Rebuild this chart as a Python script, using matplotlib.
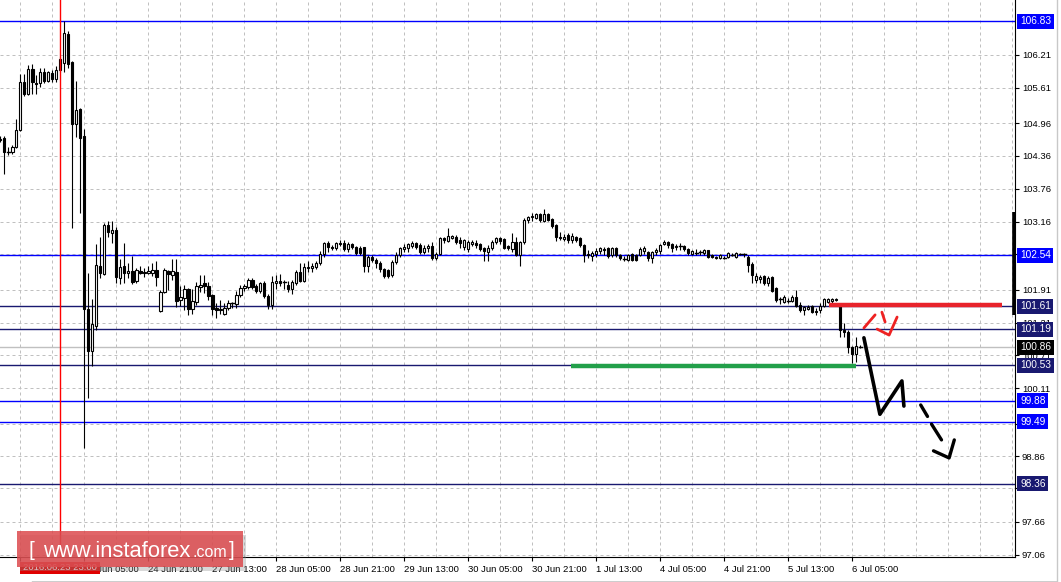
import matplotlib
matplotlib.use("Agg")
import matplotlib.pyplot as plt
import matplotlib.transforms as mtransforms
from matplotlib.patches import Rectangle

### hourly candles, bar 0 .. bar 215
opens = [104.68, 104.69, 104.43, 104.43, 104.52, 104.84, 105.72, 105.49, 105.95, 105.70,
         105.70, 105.90, 105.73, 105.88, 105.77, 105.93, 106.06, 106.59, 106.08, 104.95,
         105.22, 104.72, 101.56, 100.79, 101.25, 102.35, 102.20, 103.10, 102.95, 103.00,
         102.13, 102.35, 102.22, 102.26, 102.07, 102.26, 102.24, 102.22, 102.22, 102.27,
         101.52, 101.87, 102.25, 102.18, 102.24, 101.72, 101.76, 101.93, 101.56, 101.69,
         101.96, 102.03, 101.98, 101.81, 101.57, 101.54, 101.47, 101.58, 101.66, 101.65,
         101.81, 101.94, 101.96, 102.09, 101.98, 101.89, 102.03, 101.80, 101.63, 102.03,
         102.07, 102.05, 102.00, 101.93, 102.03, 102.23, 102.07, 102.33, 102.31, 102.33,
         102.40, 102.57, 102.77, 102.70, 102.68, 102.77, 102.77, 102.66, 102.75, 102.70,
         102.68, 102.69, 102.35, 102.51, 102.46, 102.40, 102.29, 102.27, 102.18, 102.42,
         102.55, 102.66, 102.68, 102.72, 102.77, 102.73, 102.60, 102.68, 102.72, 102.49,
         102.57, 102.86, 102.80, 102.86, 102.88, 102.82, 102.70, 102.66, 102.75, 102.77,
         102.74, 102.67, 102.60, 102.68, 102.79, 102.86, 102.84, 102.72, 102.66, 102.79,
         102.55, 102.79, 103.19, 103.24, 103.22, 103.29, 103.17, 103.29, 103.20, 103.09,
         102.88, 102.84, 102.91, 102.82, 102.88, 102.86, 102.73, 102.57, 102.53, 102.57,
         102.62, 102.66, 102.68, 102.55, 102.68, 102.55, 102.49, 102.46, 102.57, 102.55,
         102.55, 102.62, 102.60, 102.49, 102.60, 102.62, 102.75, 102.79, 102.75, 102.70,
         102.70, 102.71, 102.66, 102.57, 102.60, 102.59, 102.58, 102.63, 102.55, 102.51,
         102.50, 102.51, 102.51, 102.56, 102.51, 102.57, 102.57, 102.51, 102.38, 102.09,
         102.10, 102.16, 102.03, 102.14, 101.94, 101.73, 101.69, 101.72, 101.70, 101.78,
         101.63, 101.54, 101.56, 101.61, 101.52, 101.54, 101.61, 101.69, 101.70, 101.72,
         101.65, 101.17, 101.13, 100.86, 100.73, 100.86]
highs = [104.72, 104.73, 104.52, 104.56, 105.04, 105.86, 105.86, 106.03, 106.05, 105.84,
         105.97, 105.97, 105.92, 105.94, 106.01, 106.17, 106.83, 106.65, 106.10, 105.73,
         105.24, 104.85, 102.22, 101.74, 102.75, 102.88, 103.13, 103.17, 103.17, 103.06,
         102.48, 102.77, 102.40, 102.53, 102.31, 102.35, 102.31, 102.35, 102.40, 102.44,
         101.90, 102.31, 102.27, 102.47, 102.47, 101.98, 102.00, 101.95, 101.92, 102.06,
         102.18, 102.18, 102.05, 101.83, 101.67, 101.72, 101.66, 101.72, 101.69, 101.89,
         101.99, 102.01, 102.12, 102.12, 102.01, 102.05, 102.07, 101.83, 102.16, 102.18,
         102.20, 102.09, 102.07, 102.09, 102.27, 102.40, 102.40, 102.44, 102.40, 102.44,
         102.62, 102.79, 102.80, 102.73, 102.79, 102.82, 102.82, 102.79, 102.77, 102.71,
         102.71, 102.70, 102.55, 102.55, 102.49, 102.44, 102.31, 102.29, 102.46, 102.60,
         102.70, 102.75, 102.77, 102.80, 102.79, 102.77, 102.73, 102.75, 102.79, 102.60,
         102.88, 102.88, 103.04, 102.92, 102.91, 102.88, 102.84, 102.82, 102.82, 102.82,
         102.77, 102.70, 102.73, 102.82, 102.88, 102.88, 102.86, 102.73, 102.95, 102.88,
         102.80, 103.22, 103.26, 103.31, 103.31, 103.31, 103.39, 103.31, 103.22, 103.11,
         102.97, 102.93, 102.95, 102.95, 102.89, 102.88, 102.75, 102.64, 102.62, 102.68,
         102.70, 102.70, 102.70, 102.70, 102.70, 102.57, 102.53, 102.57, 102.59, 102.57,
         102.70, 102.71, 102.62, 102.62, 102.68, 102.75, 102.82, 102.80, 102.77, 102.75,
         102.77, 102.73, 102.68, 102.64, 102.66, 102.64, 102.66, 102.64, 102.57, 102.53,
         102.57, 102.53, 102.60, 102.59, 102.60, 102.59, 102.59, 102.55, 102.42, 102.22,
         102.18, 102.18, 102.16, 102.16, 101.96, 101.78, 101.81, 101.76, 101.81, 101.91,
         101.69, 101.61, 101.63, 101.63, 101.58, 101.67, 101.76, 101.76, 101.76, 101.76,
         101.67, 101.31, 101.17, 100.88, 101.04, 100.90]
lows = [104.62, 104.03, 104.38, 104.40, 104.50, 104.82, 105.46, 105.48, 105.49, 105.49,
        105.63, 105.70, 105.72, 105.71, 105.71, 105.90, 105.90, 105.97, 103.04, 104.71,
        103.32, 99.01, 99.93, 100.51, 101.17, 102.13, 102.18, 102.88, 102.77, 102.03,
        102.02, 102.03, 102.13, 102.02, 102.04, 102.19, 102.15, 102.19, 102.17, 101.98,
        101.50, 101.85, 101.91, 102.09, 101.59, 101.61, 101.54, 101.45, 101.47, 101.63,
        101.87, 101.85, 101.72, 101.45, 101.39, 101.47, 101.45, 101.54, 101.58, 101.58,
        101.78, 101.89, 101.92, 101.92, 101.85, 101.85, 101.76, 101.56, 101.56, 101.92,
        101.98, 101.92, 101.87, 101.83, 102.00, 102.05, 102.05, 102.24, 102.24, 102.29,
        102.37, 102.51, 102.60, 102.64, 102.64, 102.71, 102.62, 102.60, 102.66, 102.55,
        102.55, 102.24, 102.24, 102.42, 102.31, 102.24, 102.13, 102.13, 102.15, 102.38,
        102.51, 102.60, 102.60, 102.68, 102.66, 102.57, 102.57, 102.60, 102.46, 102.46,
        102.55, 102.77, 102.78, 102.84, 102.75, 102.68, 102.64, 102.60, 102.71, 102.68,
        102.62, 102.44, 102.44, 102.64, 102.75, 102.75, 102.66, 102.64, 102.60, 102.53,
        102.35, 102.75, 103.13, 103.17, 103.20, 103.15, 103.15, 103.17, 103.04, 102.80,
        102.82, 102.80, 102.77, 102.77, 102.79, 102.70, 102.42, 102.49, 102.44, 102.51,
        102.57, 102.55, 102.49, 102.51, 102.51, 102.46, 102.44, 102.44, 102.44, 102.44,
        102.53, 102.57, 102.44, 102.40, 102.55, 102.57, 102.73, 102.68, 102.60, 102.64,
        102.64, 102.62, 102.55, 102.55, 102.55, 102.55, 102.55, 102.49, 102.49, 102.47,
        102.48, 102.48, 102.49, 102.53, 102.49, 102.55, 102.51, 102.24, 102.03, 102.03,
        102.04, 102.00, 101.98, 101.87, 101.69, 101.65, 101.67, 101.67, 101.69, 101.59,
        101.50, 101.45, 101.54, 101.48, 101.45, 101.48, 101.59, 101.67, 101.67, 101.70,
        101.04, 101.04, 100.75, 100.57, 100.59, 100.84]
closes = [104.66, 104.43, 104.44, 104.52, 104.84, 105.72, 105.49, 105.95, 105.72, 105.68,
          105.90, 105.73, 105.90, 105.77, 105.93, 106.14, 106.61, 106.04, 104.95, 105.20,
          104.69, 101.56, 100.79, 101.28, 102.37, 102.22, 103.09, 102.97, 103.00, 102.14,
          102.33, 102.22, 102.26, 102.06, 102.27, 102.22, 102.22, 102.26, 102.27, 102.14,
          101.87, 102.27, 102.20, 102.25, 101.70, 101.78, 101.93, 101.56, 101.70, 101.98,
          101.99, 101.98, 101.80, 101.56, 101.54, 101.56, 101.58, 101.66, 101.67, 101.81,
          101.94, 101.98, 102.09, 101.96, 101.89, 102.03, 101.80, 101.63, 102.05, 102.07,
          102.03, 102.06, 101.93, 102.05, 102.23, 102.07, 102.33, 102.31, 102.35, 102.40,
          102.57, 102.77, 102.70, 102.68, 102.77, 102.75, 102.66, 102.75, 102.70, 102.59,
          102.59, 102.35, 102.51, 102.46, 102.40, 102.29, 102.16, 102.16, 102.42, 102.55,
          102.67, 102.70, 102.74, 102.77, 102.70, 102.60, 102.68, 102.72, 102.49, 102.57,
          102.86, 102.82, 102.89, 102.89, 102.79, 102.77, 102.82, 102.78, 102.79, 102.73,
          102.66, 102.62, 102.68, 102.79, 102.85, 102.80, 102.68, 102.68, 102.79, 102.55,
          102.79, 103.19, 103.24, 103.26, 103.29, 103.19, 103.29, 103.19, 103.07, 102.88,
          102.86, 102.88, 102.82, 102.89, 102.82, 102.73, 102.55, 102.55, 102.59, 102.62,
          102.68, 102.64, 102.53, 102.68, 102.55, 102.49, 102.48, 102.55, 102.46, 102.46,
          102.66, 102.68, 102.49, 102.60, 102.64, 102.73, 102.79, 102.73, 102.68, 102.72,
          102.71, 102.66, 102.58, 102.62, 102.59, 102.60, 102.64, 102.51, 102.51, 102.49,
          102.54, 102.50, 102.58, 102.55, 102.58, 102.57, 102.56, 102.36, 102.18, 102.16,
          102.14, 102.03, 102.13, 101.89, 101.72, 101.74, 101.78, 101.71, 101.78, 101.61,
          101.54, 101.59, 101.59, 101.50, 101.50, 101.61, 101.74, 101.74, 101.74, 101.74,
          101.17, 101.13, 100.86, 100.73, 100.88, 100.87]

### price axis labels on the right (two are hidden behind level boxes)
y_ticks = [106.21, 105.61, 104.96, 104.36, 103.76, 103.16, 102.56, 101.91, 101.31,
           100.71, 100.11, 99.46, 98.86, 98.28, 97.66, 97.06]
y_tick_labels = ["106.21", "105.61", "104.96", "104.36", "103.76", "103.16", "",
                 "101.91", "101.21", "100.71", "100.11", "", "98.86", "98.28",
                 "97.66", "97.06"]

### time axis labels (bar index -> text)
x_label_bars = [-11, 5, 21, 37, 53, 69, 85, 101, 117, 133, 149, 165, 181, 197, 213]
x_labels = ["22 Jun 21:00", "23 Jun 13:00", "24 Jun 05:00", "24 Jun 21:00", "27 Jun 13:00",
            "28 Jun 05:00", "28 Jun 21:00", "29 Jun 13:00", "30 Jun 05:00", "30 Jun 21:00",
            "1 Jul 13:00", "4 Jul 05:00", "4 Jul 21:00", "5 Jul 13:00", "6 Jul 05:00"]

### horizontal levels
levels = [106.83, 102.54, 101.61, 101.19, 100.53, 99.88, 99.49, 98.36]
level_colors = ["#0000ff", "#0000ff", "#191970", "#191970", "#191970", "#0000ff", "#0000ff", "#191970"]
bid_price = 100.86
marker_bar = 15

### hand drawn marks (bar index, price)
red_level = (207.2, 250.4, 101.63)
green_level = (142.7, 213.9, 100.51)
red_strokes = [([215.9, 218.7], [101.21, 101.45]),
               ([220.4, 221.2], [101.50, 101.32]),
               ([219.2, 222.2, 224.2], [101.19, 101.08, 101.41])]
black_path_x = [215.9, 219.9, 225.4, 225.9]
black_path_y = [101.03, 99.63, 100.24, 99.78]
black_dashes = [([230.1, 231.8], [99.80, 99.59]),
                ([232.8, 235.3], [99.45, 99.16]),
                ([233.3, 237.2, 238.5], [98.96, 98.83, 99.16])]

W, H = 1061, 582
fig = plt.figure(figsize=(W / 100, H / 100), dpi=100)
fig.patch.set_facecolor("white")
ax = fig.add_axes([0, 25 / H, 1015 / W, 557 / H])
ax.set_xlim(-0.075, -0.075 + 1015 / 4)
ax.set_ylim(107.217 - 557 * 0.018315, 107.217)

font = "Liberation Sans"

# grid
for b in range(5, 254, 8):
    ax.axvline(b, color="#c0c0c0", lw=0.72, dashes=(3, 3), zorder=0)
for v in y_ticks:
    ax.axhline(v, color="#c0c0c0", lw=0.72, dashes=(3, 3), zorder=0)

# levels
ax.axhline(bid_price, color="#c0c0c0", lw=1.0, zorder=1)
for v, c in zip(levels, level_colors):
    ax.axhline(v, color=c, lw=1.0, zorder=1)

# candles
for i in range(len(opens)):
    o, h, l, c = opens[i], highs[i], lows[i], closes[i]
    ax.plot([i, i], [l, h], color="black", lw=0.8, zorder=3, solid_capstyle="butt")
    if abs(c - o) < 0.015:
        ax.plot([i - 0.4, i + 0.4], [c, c], color="black", lw=1.0, zorder=4)
    else:
        fc = "white" if c > o else "black"
        ax.add_patch(Rectangle((i - 0.3, min(o, c)), 0.6, abs(c - o),
                               facecolor=fc, edgecolor="black", lw=0.8, zorder=4))

ax.axvline(marker_bar, color="red", lw=1.0, zorder=5)

# drawings
ax.plot(red_level[:2], [red_level[2]] * 2, color="#e8232b", lw=3.2, zorder=6, solid_capstyle="butt")
ax.plot(green_level[:2], [green_level[2]] * 2, color="#22a04a", lw=3.2, zorder=6, solid_capstyle="butt")
for xs, ys in red_strokes:
    ax.plot(xs, ys, color="#ee2222", lw=2.0, zorder=7, solid_capstyle="round")
ax.plot(black_path_x, black_path_y, color="black", lw=2.6, zorder=7, solid_capstyle="round")
for xs, ys in black_dashes:
    ax.plot(xs, ys, color="black", lw=2.4, zorder=7, solid_capstyle="round")

# spines / ticks
for s in ["left", "top"]:
    ax.spines[s].set_visible(False)
ax.spines["right"].set_color("black")
ax.spines["bottom"].set_color("black")
ax.yaxis.tick_right()
ax.set_yticks(y_ticks)
ax.set_yticklabels(y_tick_labels, fontsize=6.8, family=font)
ax.tick_params(axis="y", length=3, width=0.8, pad=2, colors="black")
ax.set_xticks(x_label_bars)
ax.set_xticklabels(x_labels, fontsize=6.8, family=font, ha="left")
ax.tick_params(axis="x", length=3, width=0.8, pad=3, colors="black")
ax.set_xlim(-0.075, -0.075 + 1015 / 4)

# current-range bar on the price scale
tr = mtransforms.blended_transform_factory(ax.transAxes, ax.transData)
ax.plot([1.0 - 1.0 / 1015, 1.0 - 1.0 / 1015], [103.34, 101.45], color="black", lw=2.6,
        transform=tr, clip_on=False, zorder=8, solid_capstyle="butt")

# level price boxes
box_levels = levels + [bid_price]
box_colors = level_colors + ["black"]
for v, c in zip(box_levels, box_colors):
    ax.text(1.0 + 5 / 1015, v, "%.2f" % v, transform=tr, ha="left", va="center",
            fontsize=7.3, family=font, color="white", clip_on=False, zorder=9,
            bbox=dict(boxstyle="square,pad=0.25", fc=c, ec="none"))

# date marker under the red line
fig.add_artist(Rectangle((20 / W, 1 - 574 / H), 80 / W, 12 / H, transform=fig.transFigure,
                         facecolor="#e00000", edgecolor="none", zorder=10))
fig.text(60 / W, 1 - 568 / H, "2016.06.23 23:00", ha="center", va="center",
         fontsize=6.8, family=font, color="#ffd8d8", zorder=11)

# watermark
fig.add_artist(Rectangle((20 / W, 1 - 571 / H), 226 / W, 36 / H, transform=fig.transFigure,
                         facecolor="#909090", alpha=0.35, edgecolor="none", zorder=12))
fig.add_artist(Rectangle((17 / W, 1 - 567 / H), 226 / W, 36 / H, transform=fig.transFigure,
                         facecolor="#dc4a4e", alpha=0.85, edgecolor="none", zorder=13))
fig.text(28 / W, 1 - 550 / H, "[", ha="left", va="center", fontsize=15, family=font,
         color="white", zorder=14)
wm = fig.text(43 / W, 1 - 557 / H, "www.instaforex", ha="left", va="baseline", fontsize=15.8,
              family=font, color="white", zorder=14)
fig.text(193 / W, 1 - 557 / H, ".com", ha="left", va="baseline", fontsize=11.5,
         family=font, color="white", zorder=14)
fig.text(229 / W, 1 - 550 / H, "]", ha="left", va="center", fontsize=15, family=font,
         color="white", zorder=14)

# window edges
fig.add_artist(plt.Line2D([32 / W, 1056 / W], [0.5 / H, 0.5 / H], color="black", lw=1.0))
fig.add_artist(plt.Line2D([1057 / W, 1057 / W], [0, 1], color="#c8c8c8", lw=1.0))

fig.savefig("out.png", dpi=100)
